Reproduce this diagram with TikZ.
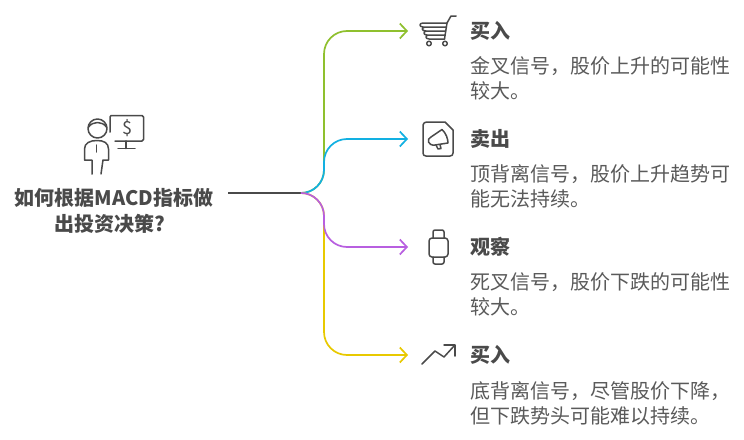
\documentclass[tikz,border=0pt]{standalone}
\usepackage{fontspec}
\setmainfont{Noto Sans CJK SC}
\usetikzlibrary{arrows.meta}
\definecolor{ink}{HTML}{4A4A4A}
\definecolor{soft}{HTML}{5A5A5A}
\definecolor{cgreen}{HTML}{8FC02E}
\definecolor{cblue}{HTML}{12B0E2}
\definecolor{cpurple}{HTML}{B85FE0}
\definecolor{cyellow}{HTML}{E8C900}
\tikzset{
 x=1pt,y=-1pt,
 branch/.style={line width=1.7pt,rounded corners=23pt,-{Straight Barb[length=7pt,width=15pt,line width=1.7pt]}},
 icon/.style={draw=ink,line width=1.5pt,line cap=round,line join=round},
 head/.style={anchor=west,inner sep=0pt,text=ink,font=\fontsize{20}{22}\selectfont\bfseries},
 body/.style={anchor=north west,inner sep=0pt,text=soft,align=left,font=\fontsize{20}{25}\selectfont},
 title/.style={inner sep=0pt,text=ink,align=center,font=\fontsize{20}{25.5}\selectfont\bfseries}
}
\begin{document}
\begin{tikzpicture}
\useasboundingbox (0,0) rectangle (744,439);
\fill[white] (0,0) rectangle (744,439);
\coordinate (start) at (228,193);
\coordinate (hub) at (301,193);
\coordinate (t1) at (408,31);
\coordinate (t2) at (408,139);
\coordinate (t3) at (408,247);
\coordinate (t4) at (408,355);
\draw[ink,line width=1.7pt] (start) -- (hub);
\draw[branch,cgreen] (hub) -| (324,31) -- (t1);
\draw[branch,cblue] (hub) -| (324,139) -- (t2);
\draw[branch,cyellow] (hub) -| (324,355) -- (t4);
\draw[branch,cpurple] (hub) -| (324,247) -- (t3);
% person icon
\draw[icon] (97.5,128.5) circle (9.5);
\draw[icon] (88.5,127) .. controls (93,121) and (102,121) .. (106.5,127);
\draw[icon] (92,174) -- (92,160) -- (84.5,160) -- (84.5,149) .. controls (84.5,143) and (90,140.5) .. (97,140.5) .. controls (104,140.5) and (108.5,143) .. (108.5,149) -- (108.5,160) -- (103,160) -- (101,174);
\draw[icon] (96.5,145) -- (96.5,152);
\draw[icon] (110,132) -- (110,117) .. controls (110,116) and (110,115.5) .. (111,115.5) -- (142,115.5) .. controls (143,115.5) and (143.5,116) .. (143.5,117) -- (143.5,139.5) .. controls (143.5,140.5) and (143,141) .. (142,141) -- (115,141);
\draw[icon] (126,141) -- (126,148.5);
\draw[icon] (118,148.5) -- (135,148.5);
\node[inner sep=0pt,text=ink,font=\fontsize{18}{18}\selectfont] (dollar) at (127,128.5) {\$};
\node[title] (tt) at (114,211) {如何根据MACD指标做\\\hbox{出投资决策?\kern8pt}};
% cart icon
\draw[icon] (447,23) -- (423,23) .. controls (419,23) and (419,27) .. (423,27) -- (446,27) -- (426,27) .. controls (421,27) and (421,31) .. (426,31) -- (445.5,31) -- (427,31) .. controls (423,31) and (423,35) .. (427,35) -- (445,35) -- (429,35) .. controls (425,35) and (425,39) .. (429,39) -- (444.5,39);
\draw[icon] (456,16) -- (451,16) -- (447,23) -- (444.5,39);
\draw[icon] (429,43.5) circle (2.3) (445,43.5) circle (2.3);
% document icon
\draw[icon] (427,122) -- (445,122) -- (453,130) -- (453,153) .. controls (453,155) and (452,156) .. (450,156) -- (426,156) .. controls (424,156) and (423,155) .. (423,153) -- (423,125) .. controls (423,123) and (425,122) .. (427,122);
\draw[icon] (431,137) -- (442,129.5) .. controls (446,133) and (448,139) .. (448,143) -- (435,145) .. controls (428,146) and (426,139) .. (431,137);
\draw[icon] (436,145) -- (438,149) -- (441,148.5) -- (440,144.5);
% watch icon
\draw[icon,rounded corners=3pt] (429,238) rectangle (448,257);
\draw[icon,rounded corners=2pt] (433,238) -- (433,230) -- (444,230) -- (444,238);
\draw[icon,rounded corners=2pt] (433,257) -- (433,264) -- (444,264) -- (444,257);
% trend icon
\draw[icon] (422,364) -- (435,351) -- (444,357) -- (454,346);
\draw[icon] (444,345) -- (455,345) -- (455,356);
% texts
\node[head] (h1) at (470,31) {买入};
\node[body] (b1) at (470,56) {金叉信号，股价上升的可能性\\较大。};
\node[head] (h2) at (470,139) {卖出};
\node[body] (b2) at (470,164) {顶背离信号，股价上升趋势可\\能无法持续。};
\node[head] (h3) at (470,247) {观察};
\node[body] (b3) at (470,272) {死叉信号，股价下跌的可能性\\较大。};
\node[head] (h4) at (470,355) {买入};
\node[body] (b4) at (470,381.5) {底背离信号，尽管股价下降，\\但下跌势头可能难以持续。};
\end{tikzpicture}
\end{document}
